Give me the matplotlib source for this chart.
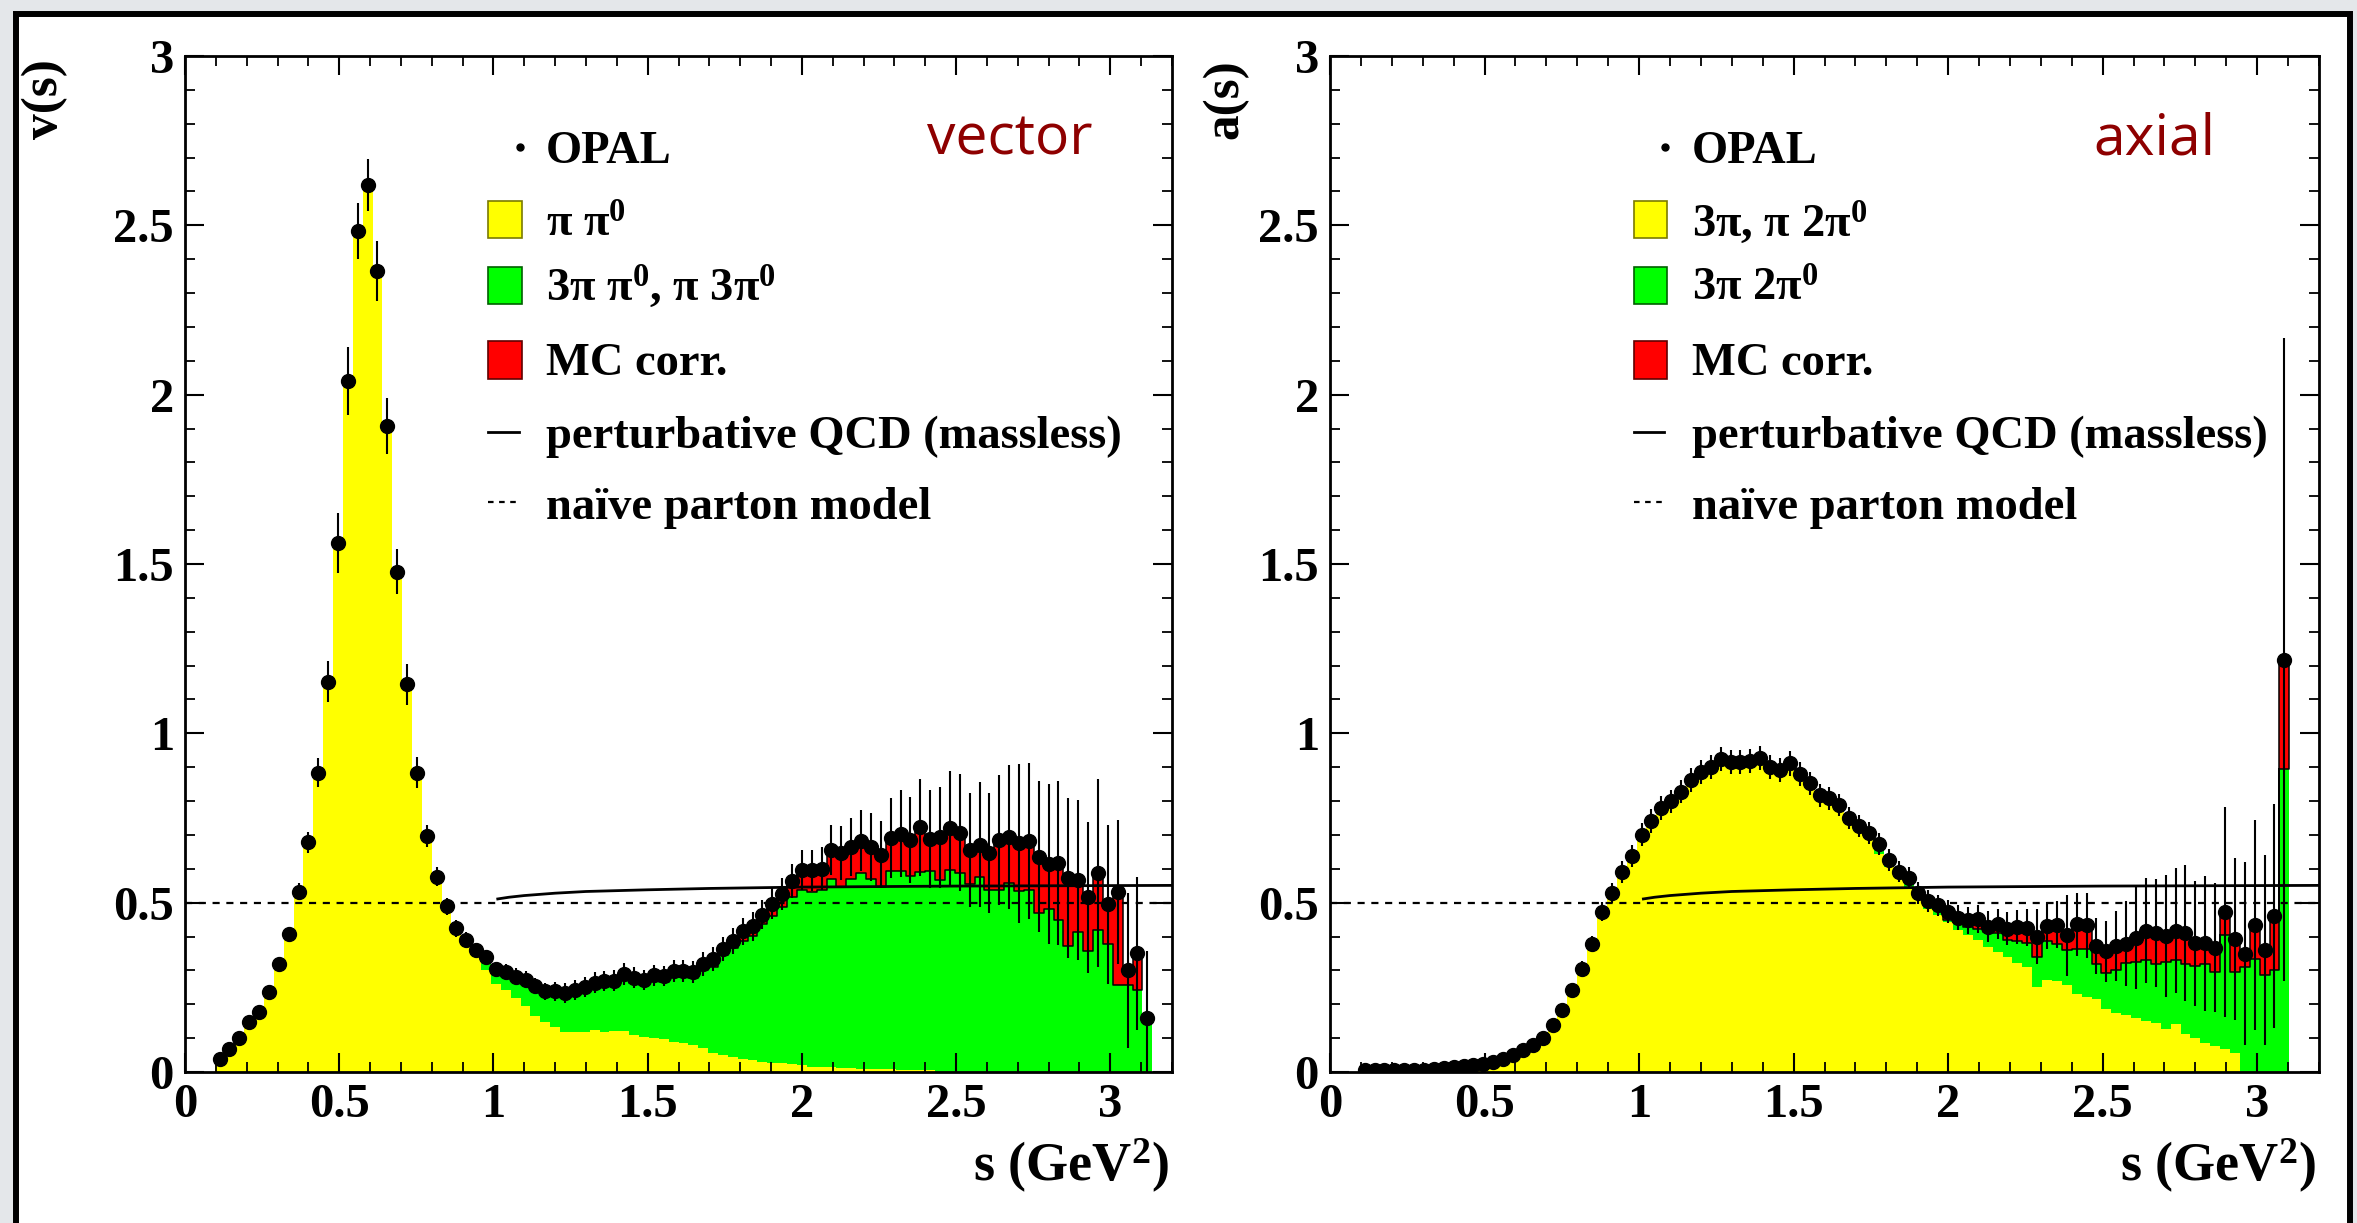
import numpy as np
import matplotlib
matplotlib.use("Agg")
import matplotlib.pyplot as plt
from matplotlib.patches import Rectangle
from matplotlib.lines import Line2D
from matplotlib.ticker import FixedLocator, MultipleLocator

plt.rcParams['mathtext.fontset'] = 'custom'
plt.rcParams['mathtext.rm'] = 'Liberation Serif:bold'
plt.rcParams['mathtext.bf'] = 'Liberation Serif:bold'
plt.rcParams['mathtext.it'] = 'Liberation Serif:bold:italic'

# ---------------- histogram binning (GeV^2) ----------------
BIN_START = 0.096
BIN_WIDTH = 0.032

# ---------------- vector spectral function ----------------
v_data = [0.037, 0.068, 0.101, 0.149, 0.177, 0.236, 0.319, 0.407, 0.532, 0.678,
          0.884, 1.153, 1.562, 2.040, 2.484, 2.619, 2.366, 1.908, 1.477, 1.145,
          0.884, 0.696, 0.576, 0.490, 0.424, 0.391, 0.360, 0.339, 0.303, 0.296,
          0.281, 0.272, 0.254, 0.239, 0.239, 0.233, 0.242, 0.250, 0.264, 0.269,
          0.270, 0.290, 0.279, 0.272, 0.285, 0.283, 0.298, 0.298, 0.295, 0.319,
          0.333, 0.364, 0.386, 0.416, 0.430, 0.465, 0.497, 0.525, 0.564, 0.596,
          0.595, 0.600, 0.655, 0.646, 0.665, 0.683, 0.664, 0.642, 0.692, 0.704,
          0.685, 0.722, 0.688, 0.693, 0.720, 0.707, 0.656, 0.671, 0.646, 0.685,
          0.694, 0.675, 0.682, 0.636, 0.615, 0.617, 0.573, 0.567, 0.516, 0.588,
          0.495, 0.531, 0.300, 0.350, 0.159]
v_err = [0.008, 0.008, 0.010, 0.010, 0.012, 0.012, 0.015, 0.018, 0.025, 0.030,
         0.042, 0.060, 0.088, 0.100, 0.083, 0.076, 0.088, 0.083, 0.067, 0.060,
         0.046, 0.032, 0.028, 0.025, 0.025, 0.022, 0.022, 0.022, 0.022, 0.022,
         0.025, 0.025, 0.025, 0.025, 0.028, 0.030, 0.030, 0.030, 0.030, 0.030,
         0.030, 0.032, 0.030, 0.030, 0.030, 0.030, 0.032, 0.032, 0.032, 0.035,
         0.035, 0.036, 0.038, 0.040, 0.042, 0.042, 0.045, 0.048, 0.050, 0.060,
         0.060, 0.064, 0.074, 0.079, 0.085, 0.090, 0.100, 0.100, 0.118, 0.128,
         0.126, 0.142, 0.145, 0.150, 0.168, 0.172, 0.169, 0.185, 0.177, 0.192,
         0.213, 0.234, 0.230, 0.224, 0.236, 0.242, 0.236, 0.236, 0.223, 0.277,
         0.234, 0.212, 0.229, 0.226, 0.197]
# top of the pi pi0 (yellow) contribution
v_yellow = [0.037, 0.068, 0.101, 0.149, 0.177, 0.236, 0.319, 0.407, 0.532, 0.678,
            0.884, 1.153, 1.562, 2.040, 2.484, 2.619, 2.366, 1.908, 1.477, 1.145,
            0.884, 0.696, 0.576, 0.488, 0.420, 0.385, 0.355, 0.301, 0.260, 0.242,
            0.218, 0.195, 0.165, 0.149, 0.134, 0.119, 0.119, 0.119, 0.124, 0.119,
            0.122, 0.122, 0.109, 0.104, 0.099, 0.096, 0.090, 0.085, 0.080, 0.070,
            0.055, 0.050, 0.043, 0.037, 0.035, 0.031, 0.028, 0.026, 0.024, 0.020,
            0.016, 0.015, 0.014, 0.012, 0.011, 0.010, 0.010, 0.009, 0.008, 0.007,
            0.007, 0.006, 0.005, 0.0, 0.0, 0.0, 0.0, 0.0, 0.0, 0.0,
            0.0, 0.0, 0.0, 0.0, 0.0, 0.0, 0.0, 0.0, 0.0, 0.0,
            0.0, 0.0, 0.0, 0.0, 0.0]
# top of the stacked yellow + green (3pi pi0, pi 3pi0) contributions
v_green_top = [0.037, 0.068, 0.101, 0.149, 0.177, 0.236, 0.319, 0.407, 0.532, 0.678,
               0.884, 1.153, 1.562, 2.040, 2.484, 2.619, 2.366, 1.908, 1.477, 1.145,
               0.884, 0.696, 0.576, 0.488, 0.420, 0.388, 0.360, 0.337, 0.303, 0.296,
               0.281, 0.272, 0.254, 0.239, 0.239, 0.233, 0.238, 0.243, 0.252, 0.256,
               0.257, 0.273, 0.263, 0.258, 0.269, 0.266, 0.280, 0.280, 0.277, 0.301,
               0.311, 0.345, 0.366, 0.387, 0.402, 0.436, 0.462, 0.487, 0.516, 0.538,
               0.531, 0.536, 0.570, 0.546, 0.570, 0.587, 0.570, 0.546, 0.593, 0.593,
               0.580, 0.590, 0.593, 0.567, 0.595, 0.587, 0.556, 0.575, 0.536, 0.538,
               0.558, 0.533, 0.536, 0.469, 0.482, 0.450, 0.371, 0.413, 0.356, 0.418,
               0.377, 0.258, 0.256, 0.241, 0.159]

# ---------------- axial-vector spectral function ----------------
a_data = [0.005, 0.005, 0.005, 0.005, 0.005, 0.005, 0.007, 0.009, 0.011, 0.015,
          0.018, 0.022, 0.025, 0.030, 0.037, 0.049, 0.064, 0.080, 0.100, 0.138,
          0.182, 0.243, 0.305, 0.378, 0.473, 0.528, 0.591, 0.637, 0.701, 0.741,
          0.779, 0.799, 0.828, 0.862, 0.886, 0.900, 0.925, 0.916, 0.916, 0.918,
          0.928, 0.901, 0.891, 0.911, 0.879, 0.852, 0.817, 0.808, 0.789, 0.750,
          0.727, 0.705, 0.673, 0.626, 0.592, 0.574, 0.528, 0.505, 0.492, 0.473,
          0.456, 0.448, 0.452, 0.429, 0.437, 0.423, 0.429, 0.426, 0.400, 0.432,
          0.435, 0.404, 0.436, 0.433, 0.372, 0.356, 0.372, 0.379, 0.395, 0.417,
          0.411, 0.402, 0.417, 0.411, 0.380, 0.380, 0.367, 0.473, 0.393, 0.349,
          0.433, 0.361, 0.460, 1.218]
a_err = [0.004, 0.004, 0.004, 0.004, 0.004, 0.004, 0.004, 0.004, 0.004, 0.004,
         0.005, 0.005, 0.006, 0.006, 0.008, 0.010, 0.010, 0.012, 0.014, 0.016,
         0.018, 0.020, 0.022, 0.025, 0.028, 0.030, 0.032, 0.032, 0.035, 0.035,
         0.035, 0.035, 0.035, 0.035, 0.035, 0.035, 0.036, 0.036, 0.036, 0.036,
         0.036, 0.036, 0.036, 0.036, 0.035, 0.035, 0.034, 0.034, 0.033, 0.033,
         0.032, 0.032, 0.032, 0.032, 0.032, 0.032, 0.032, 0.032, 0.032, 0.034,
         0.036, 0.040, 0.042, 0.045, 0.045, 0.048, 0.050, 0.055, 0.080, 0.070,
         0.070, 0.120, 0.094, 0.096, 0.084, 0.090, 0.104, 0.125, 0.150, 0.155,
         0.160, 0.180, 0.185, 0.200, 0.185, 0.200, 0.190, 0.310, 0.240, 0.270,
         0.310, 0.280, 0.330, 0.950]
# top of the 3pi, pi 2pi0 (yellow) contribution
a_yellow = [0.005, 0.005, 0.005, 0.005, 0.005, 0.005, 0.007, 0.009, 0.011, 0.015,
            0.018, 0.022, 0.025, 0.030, 0.037, 0.049, 0.064, 0.080, 0.100, 0.138,
            0.182, 0.243, 0.305, 0.378, 0.473, 0.528, 0.591, 0.637, 0.701, 0.741,
            0.779, 0.799, 0.828, 0.862, 0.886, 0.900, 0.925, 0.916, 0.916, 0.918,
            0.928, 0.901, 0.891, 0.911, 0.879, 0.852, 0.817, 0.808, 0.787, 0.745,
            0.720, 0.695, 0.645, 0.605, 0.576, 0.546, 0.507, 0.482, 0.463, 0.443,
            0.418, 0.404, 0.389, 0.369, 0.354, 0.340, 0.322, 0.310, 0.251, 0.271,
            0.269, 0.256, 0.231, 0.221, 0.217, 0.187, 0.175, 0.167, 0.158, 0.150,
            0.145, 0.128, 0.141, 0.113, 0.099, 0.086, 0.077, 0.068, 0.055, 0.0,
            0.0, 0.0, 0.0, 0.0]
# top of the stacked yellow + green (3pi 2pi0) contributions
a_green_top = [0.005, 0.005, 0.005, 0.005, 0.005, 0.005, 0.007, 0.009, 0.011, 0.015,
               0.018, 0.022, 0.025, 0.030, 0.037, 0.049, 0.064, 0.080, 0.100, 0.138,
               0.182, 0.243, 0.305, 0.378, 0.473, 0.528, 0.591, 0.637, 0.701, 0.741,
               0.779, 0.799, 0.828, 0.862, 0.886, 0.900, 0.925, 0.916, 0.916, 0.918,
               0.928, 0.901, 0.891, 0.911, 0.879, 0.852, 0.817, 0.808, 0.789, 0.750,
               0.727, 0.705, 0.673, 0.626, 0.592, 0.574, 0.522, 0.497, 0.485, 0.450,
               0.443, 0.428, 0.423, 0.413, 0.410, 0.389, 0.387, 0.381, 0.340, 0.387,
               0.379, 0.359, 0.364, 0.364, 0.320, 0.292, 0.300, 0.322, 0.325, 0.332,
               0.320, 0.325, 0.330, 0.318, 0.312, 0.320, 0.295, 0.404, 0.295, 0.310,
               0.335, 0.285, 0.300, 0.896]

# ---------------- theory curves ----------------
qcd_s = [1.014, 1.05, 1.10, 1.20, 1.30, 1.50, 1.70, 2.00, 2.50, 3.20]
qcd_val = [0.511, 0.516, 0.521, 0.528, 0.533, 0.538, 0.542, 0.546, 0.549, 0.551]
naive_val = 0.5

# ---------------- axes / labels ----------------
xticks = [0, 0.5, 1, 1.5, 2, 2.5, 3]
xtick_labels = ['0', '0.5', '1', '1.5', '2', '2.5', '3']
yticks = [0, 0.5, 1, 1.5, 2, 2.5, 3]
ytick_labels = ['0', '0.5', '1', '1.5', '2', '2.5', '3']
v_legend = ['OPAL', 'π π$^{0}$', '3π π$^{0}$, π 3π$^{0}$', 'MC corr.',
            'perturbative QCD (massless)', 'naïve parton model']
a_legend = ['OPAL', '3π, π 2π$^{0}$', '3π 2π$^{0}$', 'MC corr.',
            'perturbative QCD (massless)', 'naïve parton model']

YELLOW = '#ffff00'
GREEN = '#00ff00'
RED = '#ff0000'
TAG_COLOR = '#8e0000'
SERIF = 'Liberation Serif'

W, H = 2357, 1223
fig = plt.figure(figsize=(W / 100, H / 100), dpi=100)
fig.patch.set_facecolor('#e4e7ea')
fig.patches.append(Rectangle((16 / W, -0.05), (2350 - 16) / W, 1.05 - 13.5 / H,
                             transform=fig.transFigure, facecolor='white',
                             edgecolor='black', linewidth=4.3, zorder=-5))


def draw_panel(ax, data, err, yellow, gtop, legend, ylabel, tag, ylab_x, tag_x):
    data = np.asarray(data, float)
    err = np.asarray(err, float)
    yellow = np.asarray(yellow, float)
    gtop = np.asarray(gtop, float)
    n = len(data)
    edges = BIN_START + BIN_WIDTH * np.arange(n + 1)
    centers = 0.5 * (edges[:-1] + edges[1:])

    ye = np.append(yellow, yellow[-1])
    ge = np.append(gtop, gtop[-1])
    ax.fill_between(edges, 0, ye, step='post', facecolor=YELLOW, edgecolor='none', lw=0, zorder=1)
    ax.fill_between(edges, ye, ge, step='post', facecolor=GREEN, edgecolor='none', lw=0, zorder=1)

    # MC correction (red) on top, drawn per contiguous run with black outline
    has_red = (data - gtop) > 0.0045
    i = 0
    while i < n:
        if has_red[i]:
            j = i
            while j < n and has_red[j]:
                j += 1
            xe = edges[i:j + 1]
            lo = np.append(gtop[i:j], gtop[j - 1])
            hi = np.append(data[i:j], data[j - 1])
            ax.fill_between(xe, lo, hi, step='post', facecolor=RED,
                            edgecolor='black', lw=1.1, zorder=2)
            i = j
        else:
            i += 1

    ax.axhline(naive_val, color='black', lw=1.6, ls=(0, (3.2, 3.0)), zorder=3)
    ax.plot(qcd_s, qcd_val, color='black', lw=2.0, zorder=3)

    ax.vlines(centers, data - err, data + err, color='black', lw=1.5, zorder=4)
    ax.plot(centers, data, 'o', color='black', ms=10, mec='black', zorder=5)

    ax.set_xlim(0, 3.2)
    ax.set_ylim(0, 3)
    ax.xaxis.set_major_locator(FixedLocator(xticks))
    ax.yaxis.set_major_locator(FixedLocator(yticks))
    ax.set_xticklabels(xtick_labels)
    ax.set_yticklabels(ytick_labels)
    ax.xaxis.set_minor_locator(MultipleLocator(0.1))
    ax.yaxis.set_minor_locator(MultipleLocator(0.1))
    ax.tick_params(which='both', direction='in', top=True, right=True)
    ax.tick_params(which='major', length=14, width=1.5)
    ax.tick_params(which='minor', length=7, width=1.3)
    ax.tick_params(axis='x', pad=8)
    ax.tick_params(axis='y', pad=8)
    for lab in ax.get_xticklabels() + ax.get_yticklabels():
        lab.set_fontfamily(SERIF)
        lab.set_fontweight('bold')
        lab.set_fontsize(35)
    for sp in ax.spines.values():
        sp.set_linewidth(2.0)
        sp.set_zorder(6)

    ax.text(ylab_x, 0.997, ylabel, transform=ax.transAxes, rotation=90,
            ha='center', va='top', fontfamily=SERIF, fontweight='bold', fontsize=37)
    ax.text(0.997, -0.108, 's (GeV$^{2}$)', transform=ax.transAxes, ha='right',
            va='baseline', fontfamily=SERIF, fontweight='bold', fontsize=39)
    ax.text(tag_x, 0.9026, tag, transform=ax.transAxes, ha='left', va='baseline',
            fontfamily='Open Sans', fontsize=41, color=TAG_COLOR)

    # hand-made legend (ROOT style)
    tx = 0.366
    bx0, bx1 = 0.307, 0.341
    base = [0.895, 0.822, 0.759, 0.686, 0.614, 0.544]
    mids = [0.910, 0.839, 0.774, 0.701, 0.630, 0.561]
    for lab, yb in zip(legend, base):
        ax.text(tx, yb, lab, transform=ax.transAxes, ha='left', va='baseline',
                fontfamily=SERIF, fontweight='bold', fontsize=33.5, zorder=7)
    ax.plot([0.339], [mids[0]], 'o', color='black', ms=5, transform=ax.transAxes, zorder=7)
    bh = 0.037
    for col, ec, ym in zip([YELLOW, GREEN, RED], ['#7a7a00', '#006000', '#600000'], mids[1:4]):
        ax.add_patch(Rectangle((bx0, ym - bh / 2), bx1 - bx0, bh, transform=ax.transAxes,
                               facecolor=col, edgecolor=ec, lw=1.2, zorder=7))
    ax.add_line(Line2D([bx0, bx1 - 0.003], [mids[4], mids[4]], transform=ax.transAxes,
                       color='black', lw=2.0, zorder=7))
    ax.add_line(Line2D([bx0, bx1 - 0.003], [mids[5], mids[5]], transform=ax.transAxes,
                       color='black', lw=1.6, ls=(0, (2.5, 2.5)), zorder=7))


axL = fig.add_axes([185 / W, 1 - 1072 / H, 987 / W, 1016 / H])
axR = fig.add_axes([1330 / W, 1 - 1072 / H, 989 / W, 1016 / H])

draw_panel(axL, v_data, v_err, v_yellow, v_green_top, v_legend, 'v(s)', 'vector', -0.142, 0.752)
draw_panel(axR, a_data, a_err, a_yellow, a_green_top, a_legend, 'a(s)', 'axial', -0.106, 0.772)

fig.savefig('out.png', dpi=100, facecolor=fig.get_facecolor())
